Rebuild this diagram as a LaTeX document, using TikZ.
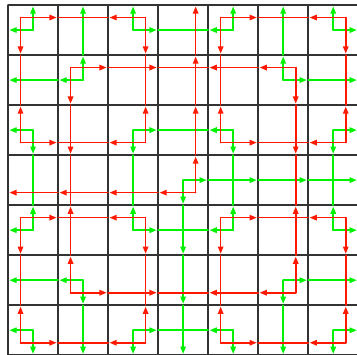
\documentclass[tikz,border=0pt]{standalone}
\usepackage{tikz}
\usetikzlibrary{arrows.meta}
\usepackage{xcolor}

\begin{document}
\begin{tikzpicture}[>={Triangle[length=4.1pt,width=3.1pt]},line cap=round,yscale=-1,
  redflow/.style={red!80!orange,line width=0.9pt},
  greenflow/.style={green!95!black,line width=0.9pt},
  flowtip/.style={->,shorten >=0.8pt}]
\useasboundingbox (-0.16,-0.1) rectangle (6.975,6.99);
\draw[black!80,line width=0.85pt] (0,0) grid (7,7);
% junctions: red a quarter in from a corner, green in the middle of the cell
\foreach \i/\a in {0/0.25,1/0.25,2/0.75,3/0.75,4/0.25,5/0.75,6/0.75}
  \foreach \j/\b in {0/0.25,1/0.25,2/0.75,3/0.75,4/0.25,5/0.75,6/0.75} {
    \coordinate (r\i\j) at (\i+\a,\j+\b);
    \coordinate (g\i\j) at (\i+0.5,\j+0.5);
  }
% green: leaving the square
\foreach \k in {0,1,2,4,5,6} {
  \draw[greenflow,flowtip] (g0\k) -- (g0\k -| 0,0);
  \draw[greenflow,flowtip] (g\k0) -- (g\k0 |- 0,0);
}
\foreach \k in {0,...,6} {
  \draw[greenflow,flowtip] (g6\k) -- (g6\k -| 7,0);
  \draw[greenflow,flowtip] (g\k6) -- (g\k6 |- 0,7);
}
% green inside (same pattern along rows and along columns)
\foreach \k/\list in {0/{2/3/3,4/3/4},2/{2/3/3,4/3/4},4/{2/3/3,4/3/4},6/{2/3/3,4/3/4},
    1/{1/0/1,5/6/6},5/{1/0/1,5/6/6},3/{3/4/4,4/5/5,5/6/6}}
  \foreach \s/\t/\b in \list {
    \draw[greenflow,flowtip] (g\s\k) -- (g\s\k -| \b,0);
    \draw[greenflow] (g\s\k -| \b,0) -- (g\t\k);
    \draw[greenflow,flowtip] (g\k\s) -- (g\k\s |- 0,\b);
    \draw[greenflow] (g\k\s |- 0,\b) -- (g\k\t);
  }
% red
\draw[redflow,flowtip] (r03) -- (r03 -| 0,0);
\draw[redflow,flowtip] (r30) -- (r30 |- 0,0);
\foreach \k/\list in {0/{0/1/1,2/1/2,4/5/5,6/5/6},2/{0/1/1,2/1/2,4/5/5,6/5/6},
    4/{0/1/1,2/1/2,4/5/5,6/5/6},6/{0/1/1,2/1/2,4/5/5,6/5/6},
    1/{1/2/2,2/3/3,4/3/4,5/4/5},5/{1/2/2,2/3/3,4/3/4,5/4/5},3/{1/0/1,2/1/2,3/2/3}}
  \foreach \s/\t/\b in \list {
    \draw[redflow,flowtip] (r\s\k) -- (r\s\k -| \b,0);
    \draw[redflow] (r\s\k -| \b,0) -- (r\t\k);
    \draw[redflow,flowtip] (r\k\s) -- (r\k\s |- 0,\b);
    \draw[redflow] (r\k\s |- 0,\b) -- (r\k\t);
  }
\end{tikzpicture}
\end{document}
